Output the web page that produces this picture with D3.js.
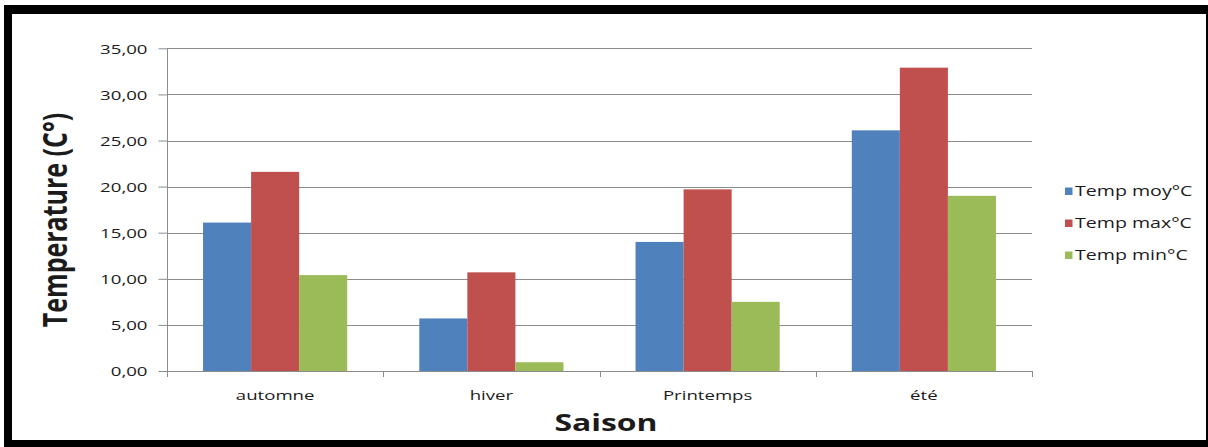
<!DOCTYPE html>
<html>
<head>
<meta charset="utf-8">
<script src="https://cdn.jsdelivr.net/npm/d3@7"></script>
<style>
  html, body { margin: 0; padding: 0; background: #fff; }
  svg { display: block; }
  text { font-family: "Open Sans", "DejaVu Sans", sans-serif; fill: #1b1b1b; }
</style>
</head>
<body>
<svg id="chart" width="1208" height="447"></svg>
<script>
// Seasonal temperatures (°C)
const categories = ["automne", "hiver", "Printemps", "été"];
const seriesNames = ["Temp moy°C", "Temp max°C", "Temp min°C"];
const tempMoy = [16.1, 5.7, 14.0, 26.1];
const tempMax = [21.6, 10.7, 19.7, 32.9];
const tempMin = [10.4, 0.95, 7.5, 19.0];
const seriesColors = ["#4F81BD", "#C0504D", "#9BBB59"];
const yTickValues = [0, 5, 10, 15, 20, 25, 30, 35];
const yTickLabels = ["0,00", "5,00", "10,00", "15,00", "20,00", "25,00", "30,00", "35,00"];
const xTitle = "Saison";
const yTitle = "Temperature (C°)";

const seriesValues = [tempMoy, tempMax, tempMin];

// Text is drawn slightly widened, as in the exported worksheet chart
const SX = 1.38;

const svg = d3.select("#chart");

// Frame
svg.append("rect").attr("x", 4).attr("y", 5).attr("width", 1204).attr("height", 442).attr("fill", "#000");
svg.append("rect").attr("x", 12).attr("y", 14).attr("width", 1194).attr("height", 426).attr("fill", "#fff");

const plot = { left: 167, right: 1032, top: 48.3, bottom: 371 };

const x0 = d3.scaleBand().domain(categories).range([plot.left, plot.right]).padding(0);
const x1 = d3.scaleBand().domain(seriesNames).range([0, x0.bandwidth()]).paddingInner(0).paddingOuter(0.75);
const y = d3.scaleLinear().domain([0, 35]).range([plot.bottom, plot.top]);

// Gridlines
svg.append("g").selectAll("line").data(yTickValues).join("line")
  .attr("x1", plot.left).attr("x2", plot.right)
  .attr("y1", d => Math.round(y(d)) + 0.5).attr("y2", d => Math.round(y(d)) + 0.5)
  .attr("stroke", "#8c8c8c").attr("stroke-width", 1);

// Bars
const groups = svg.append("g").selectAll("g").data(categories).join("g")
  .attr("transform", c => `translate(${x0(c)},0)`);
groups.selectAll("rect")
  .data((c, i) => seriesNames.map((s, k) => ({ s, k, v: seriesValues[k][i] })))
  .join("rect")
  .attr("x", d => x1(d.s))
  .attr("width", x1.bandwidth())
  .attr("y", d => y(d.v))
  .attr("height", d => y(0) - y(d.v))
  .attr("fill", d => seriesColors[d.k]);

// Y axis
const yAxis = svg.append("g")
  .attr("transform", `translate(${plot.left + 0.5},0)`)
  .call(d3.axisLeft(y).tickValues(yTickValues).tickSize(9).tickSizeOuter(0)
    .tickFormat((d, i) => yTickLabels[i]));
yAxis.select(".domain").attr("stroke", "#8c8c8c").attr("d", `M0,${plot.top}V${plot.bottom + 6}`);
yAxis.selectAll(".tick line").attr("stroke", "#8c8c8c");
yAxis.selectAll(".tick text")
  .attr("x", 0).attr("dy", "0.36em")
  .attr("transform", `translate(-20,0) scale(${SX},1)`)
  .style("font-size", "13.5px").style("font-family", null);

// X axis line with ticks at category boundaries
const xAxisG = svg.append("g");
xAxisG.append("line")
  .attr("x1", plot.left).attr("x2", plot.right)
  .attr("y1", Math.round(y(0)) + 0.5).attr("y2", Math.round(y(0)) + 0.5)
  .attr("stroke", "#8c8c8c");
const boundaries = categories.map(c => x0(c)).concat([x0.range()[1]]);
xAxisG.selectAll("line.b").data(boundaries).join("line").attr("class", "b")
  .attr("x1", d => Math.round(d) + 0.5).attr("x2", d => Math.round(d) + 0.5)
  .attr("y1", plot.bottom).attr("y2", plot.bottom + 6)
  .attr("stroke", "#8c8c8c");
xAxisG.selectAll("g.lbl").data(categories).join("g").attr("class", "lbl")
  .attr("transform", c => `translate(${x0(c) + x0.bandwidth() / 2},400) scale(${SX},1)`)
  .append("text").attr("text-anchor", "middle").style("font-size", "13.5px")
  .text(c => c);

// Axis titles
svg.append("g").attr("transform", `translate(606,431) scale(1.33,1)`)
  .append("text").attr("text-anchor", "middle")
  .style("font-size", "24px").style("font-weight", "bold").text(xTitle);

svg.append("g").attr("transform", `translate(67,220) scale(1.33,1) rotate(-90)`)
  .append("text").attr("text-anchor", "middle")
  .style("font-size", "25px").style("font-weight", "bold").text(yTitle);

// Legend
const legend = svg.append("g").selectAll("g").data(seriesNames).join("g")
  .attr("transform", (d, i) => `translate(1065,${191 + i * 32})`);
legend.append("rect").attr("x", 0).attr("y", -3.5).attr("width", 7.5).attr("height", 7.5)
  .attr("fill", (d, i) => seriesColors[i]);
legend.append("g").attr("transform", `translate(10,5) scale(1.4,1)`)
  .append("text").style("font-size", "14px").text(d => d);
</script>
</body>
</html>
